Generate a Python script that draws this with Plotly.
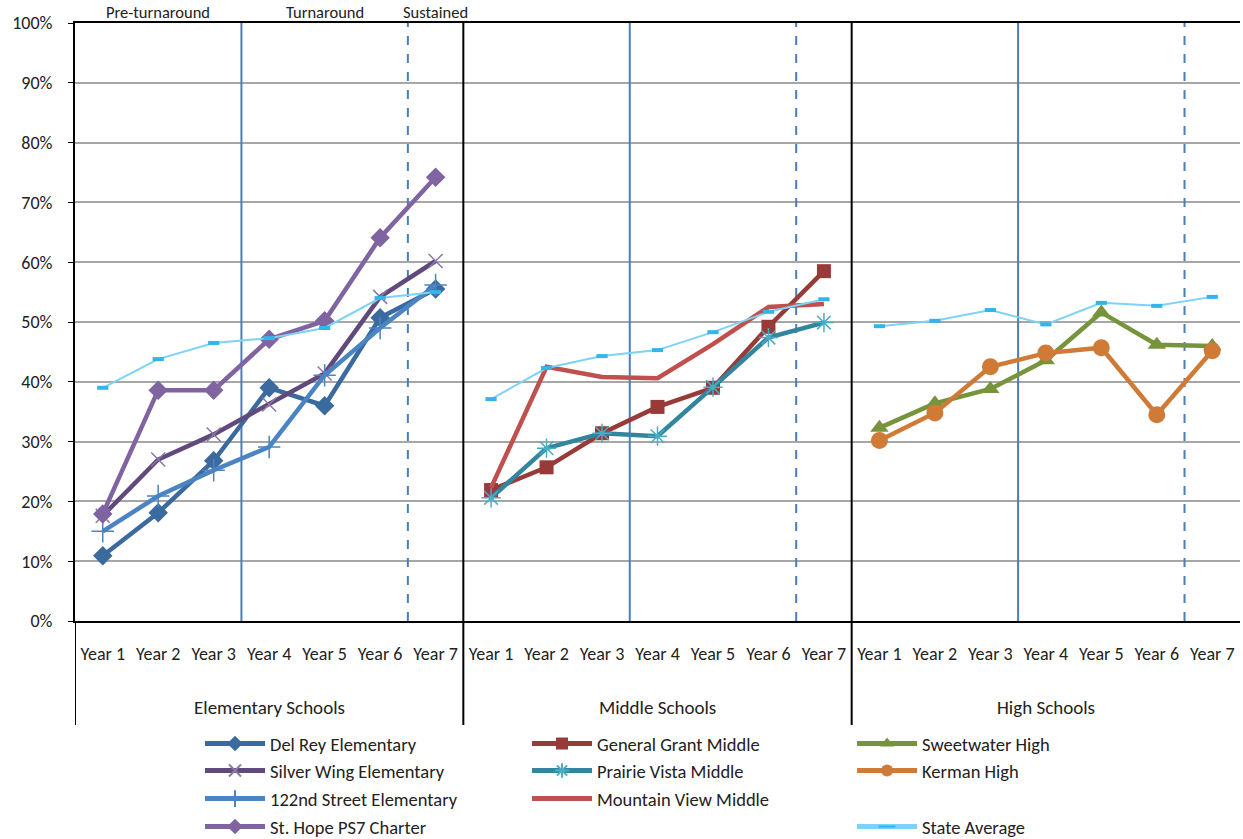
import plotly.graph_objects as go

# ---------------- data ----------------
groups = ["Elementary Schools", "Middle Schools", "High Schools"]
years = ["Year 1", "Year 2", "Year 3", "Year 4", "Year 5", "Year 6", "Year 7"]
phase_labels = ["Pre-turnaround", "Turnaround", "Sustained"]
phase_year_idx = [1, 4, 6]

del_rey = [10.9, 18.1, 26.8, 39.0, 36.0, 50.7, 55.5]
silver_wing = [17.6, 27.0, 31.2, 36.2, 41.4, 54.2, 60.2]
street_122 = [15.0, 20.9, 25.2, 29.1, 41.1, 49.0, 56.2]
st_hope = [17.9, 38.6, 38.6, 47.1, 50.2, 64.1, 74.2]
general_grant = [21.9, 25.7, 31.4, 35.8, 39.0, 49.2, 58.5]
prairie_vista = [20.6, 28.9, 31.4, 30.9, 39.1, 47.4, 49.9]
mountain_view = [22.3, 42.5, 40.8, 40.6, 46.3, 52.5, 53.0]
sweetwater = [32.3, 36.4, 38.8, 43.6, 51.6, 46.2, 46.0]
kerman = [30.2, 34.8, 42.5, 44.8, 45.7, 34.5, 45.2]
state_elem = [39.0, 43.8, 46.5, 47.3, 49.0, 54.0, 55.0]
state_mid = [37.1, 42.3, 44.3, 45.3, 48.3, 51.7, 53.8]
state_high = [49.3, 50.2, 52.0, 49.6, 53.2, 52.7, 54.2]

FONT = "Carlito, 'Liberation Sans Narrow', 'DejaVu Sans Condensed', 'Open Sans', sans-serif"
n = len(years)

def xs(g):
    return [g * n + i for i in range(n)]

series = [
    # name, values, group, color, symbol, size, marker line color, legend col, legend row
    ("Del Rey Elementary", del_rey, 0, "#3A6A9E", "diamond", 15, None, 0, 0),
    ("Silver Wing Elementary", silver_wing, 0, "#604A7B", "x-thin-open", 14, "#8A78A6", 0, 1),
    ("122nd Street Elementary", street_122, 0, "#4A84C2", "cross-thin-open", 16, "#4A84C2", 0, 2),
    ("St. Hope PS7 Charter", st_hope, 0, "#8064A2", "diamond", 15, None, 0, 3),
    ("General Grant Middle", general_grant, 1, "#983A38", "square", 14, None, 1, 0),
    ("Prairie Vista Middle", prairie_vista, 1, "#31859C", "asterisk-open", 16, "#4AACC5", 1, 1),
    ("Mountain View Middle", mountain_view, 1, "#C0504D", None, 0, None, 1, 2),
    ("Sweetwater High", sweetwater, 2, "#77933C", "triangle-up", 16, None, 2, 0),
    ("Kerman High", kerman, 2, "#CF7A36", "circle", 17, None, 2, 1),
]

col_x = [0.1073, 0.388, 0.667]
row_y = [-0.2057, -0.2508, -0.2977, -0.3445]

fig = go.Figure()
legends = {}
for k, (name, vals, g, color, sym, size, mlc, c, r) in enumerate(series):
    lg = "legend" if k == 0 else f"legend{k+1}"
    marker = None
    mode = "lines"
    if sym:
        mode = "lines+markers"
        if mlc:
            marker = dict(symbol=sym, size=size, color=mlc, line=dict(color=mlc, width=1.5))
        else:
            marker = dict(symbol=sym, size=size, color=color)
    fig.add_trace(go.Scatter(x=xs(g), y=vals, mode=mode, name=name, legend=lg, showlegend=True,
                             line=dict(color=color, width=4.5), marker=marker))
    legends[lg] = (col_x[c], row_y[r])

# State average: one trace, broken between groups
sx, sy = [], []
for g, vals in enumerate([state_elem, state_mid, state_high]):
    if g:
        sx.append(None)
        sy.append(None)
    sx += xs(g)
    sy += vals
lg = f"legend{len(series)+1}"
fig.add_trace(go.Scatter(x=sx, y=sy, mode="lines+markers", name="State Average", legend=lg,
                         showlegend=True,
                         line=dict(color="#7CD3F7", width=2),
                         marker=dict(symbol="line-ew", size=8, color="#33B5EA",
                                     line=dict(color="#33B5EA", width=4))))
legends[lg] = (col_x[2], row_y[3])

for lg, (lx, ly) in legends.items():
    fig.layout[lg] = dict(x=lx, y=ly, xanchor="left", yanchor="middle", visible=True,
                          bgcolor="rgba(0,0,0,0)", font=dict(family=FONT, size=18.5, color="#222"),
                          itemsizing="constant", itemwidth=60)

# ---------------- reference lines ----------------
shapes = []
for g in range(len(groups)):
    shapes.append(dict(type="line", xref="x", yref="y", x0=g * n + 2.5, x1=g * n + 2.5, y0=0, y1=100,
                       line=dict(color="#4A7EBB", width=2), layer="between"))
    shapes.append(dict(type="line", xref="x", yref="y", x0=g * n + 5.5, x1=g * n + 5.5, y0=0, y1=100,
                       line=dict(color="#4A7EBB", width=2, dash="dash"), layer="between"))
for g in range(1, len(groups)):
    shapes.append(dict(type="line", xref="x", yref="paper", x0=g * n - 0.5, x1=g * n - 0.5,
                       y0=-0.174, y1=1, line=dict(color="black", width=2)))
shapes.append(dict(type="line", xref="x", yref="paper", x0=-0.5, x1=-0.5, y0=-0.174, y1=0,
                   line=dict(color="black", width=2)))

annotations = []
for g, gname in enumerate(groups):
    annotations.append(dict(x=g * n + 3, y=-0.144, xref="x", yref="paper", text=gname,
                            yanchor="middle", showarrow=False,
                            font=dict(family=FONT, size=19, color="#222")))
for lab, idx in zip(phase_labels, phase_year_idx):
    annotations.append(dict(x=idx, y=1.019, xref="x", yref="paper", text=lab, showarrow=False,
                            yanchor="middle",
                            font=dict(family=FONT, size=16.5, color="#222")))

fig.update_layout(
    width=1243, height=839,
    margin=dict(l=75, r=3, t=23, b=218, autoexpand=False),
    paper_bgcolor="white", plot_bgcolor="white",
    showlegend=True,
    font=dict(family=FONT, size=14, color="#222"),
    shapes=shapes, annotations=annotations,
    xaxis=dict(range=[-0.5, 3 * n - 0.5], tickvals=list(range(3 * n)), ticktext=years * 3,
               showgrid=False, zeroline=False, showline=True, linecolor="black", linewidth=2,
               mirror=True, ticks="", ticklabelstandoff=15, automargin=False,
               tickfont=dict(family=FONT, size=18, color="#222")),
    yaxis=dict(range=[0, 100], dtick=10, ticksuffix="%", showgrid=True, gridcolor="#A6A6A6",
               gridwidth=1.5, zeroline=False, showline=True, linecolor="black", linewidth=2,
               ticks="outside", ticklen=5, tickcolor="black", ticklabelstandoff=12,
               automargin=False,
               tickfont=dict(family=FONT, size=18, color="#222")),
)

fig.write_html("out.html", config={"displayModeBar": False},
               post_script="document.body.style.margin='0';document.body.style.overflow='hidden';")
